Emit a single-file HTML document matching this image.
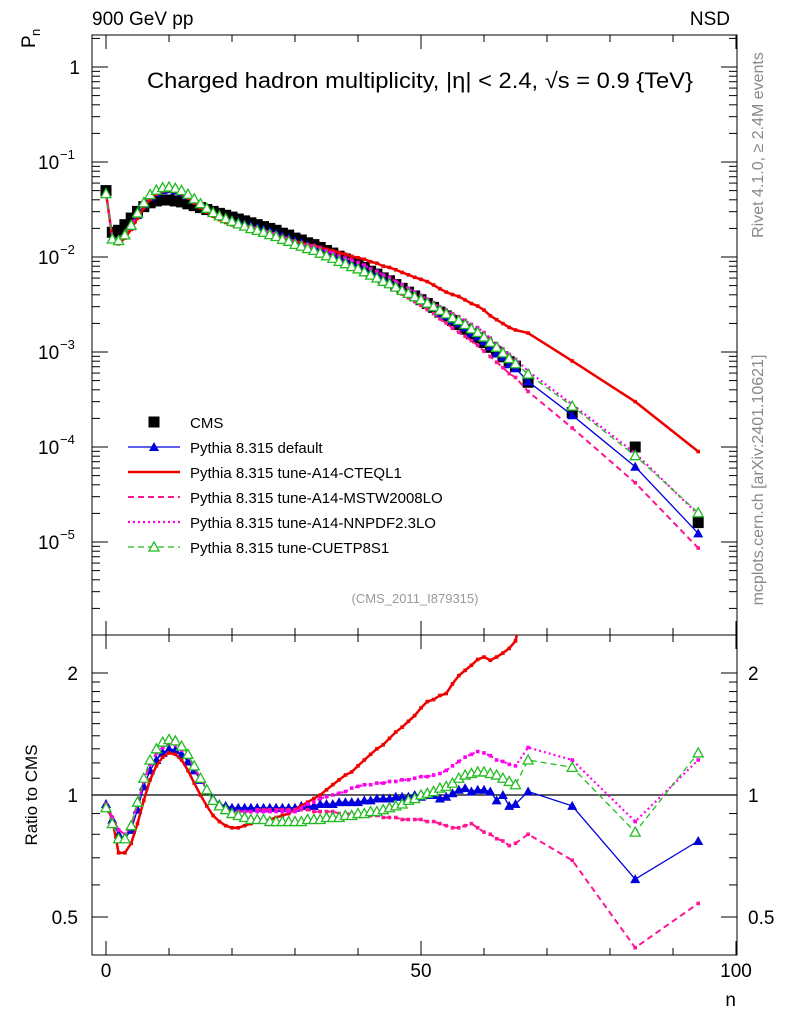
<!DOCTYPE html>
<html><head><meta charset="utf-8"><style>
body{margin:0;background:#fff;width:786px;height:1024px;overflow:hidden;font-family:"Liberation Sans",sans-serif}
svg{display:block}
</style></head><body>
<svg id="c" width="786" height="1024" xmlns="http://www.w3.org/2000/svg" font-family="Liberation Sans, DejaVu Sans, sans-serif"></svg>
<script>
const nvals=[0,1,2,3,4,5,6,7,8,9,10,11,12,13,14,15,16,17,18,19,20,21,22,23,24,25,26,27,28,29,30,31,32,33,34,35,36,37,38,39,40,41,42,43,44,45,46,47,48,49,50,51,52,53,54,55,56,57,58,59,60,61,62,63,64,65,67,74,84,94];
const cms=[0.050,0.0182,0.0191,0.0219,0.0257,0.0302,0.0339,0.0372,0.0389,0.0398,0.0398,0.0389,0.0380,0.0363,0.0347,0.0331,0.0316,0.0302,0.0288,0.0275,0.0263,0.0251,0.0240,0.0229,0.0219,0.0209,0.0200,0.0191,0.0178,0.0170,0.0158,0.0151,0.0141,0.0135,0.0126,0.0117,0.0110,0.0102,0.00955,0.00891,0.00832,0.00776,0.00708,0.00661,0.00603,0.00562,0.00513,0.00468,0.00427,0.00389,0.00355,0.00324,0.00295,0.00263,0.00240,0.00214,0.00195,0.00174,0.00155,0.00141,0.00126,0.00112,0.00100,0.00089,0.00079,0.00071,0.00048,0.00023,0.000100,0.0000160];
const ratioDefault=[0.95,0.87,0.80,0.78,0.82,0.92,1.05,1.15,1.22,1.27,1.30,1.29,1.26,1.21,1.15,1.09,1.03,0.98,0.95,0.94,0.93,0.93,0.93,0.93,0.93,0.93,0.93,0.93,0.93,0.93,0.93,0.94,0.94,0.94,0.95,0.95,0.95,0.96,0.96,0.96,0.96,0.97,0.97,0.98,0.98,0.98,0.99,0.99,0.99,1.00,0.99,1.00,1.00,0.98,0.99,1.01,1.03,1.04,1.02,1.03,1.03,1.02,0.97,1.00,0.94,0.95,1.02,0.94,0.62,0.77];
const ratioCTEQ=[0.95,0.87,0.72,0.72,0.76,0.85,0.97,1.09,1.18,1.24,1.27,1.26,1.22,1.15,1.07,1.00,0.94,0.89,0.86,0.84,0.83,0.83,0.84,0.85,0.86,0.86,0.87,0.88,0.89,0.90,0.92,0.94,0.96,0.98,1.00,1.03,1.06,1.09,1.12,1.14,1.18,1.22,1.26,1.30,1.33,1.38,1.43,1.47,1.52,1.57,1.64,1.70,1.72,1.76,1.78,1.88,1.97,2.03,2.09,2.16,2.19,2.15,2.19,2.24,2.30,2.40,3.3,3.5,3.0,5.6];
const ratioMSTW=[0.95,0.88,0.82,0.80,0.84,0.95,1.08,1.19,1.27,1.31,1.34,1.33,1.29,1.24,1.17,1.10,1.03,0.97,0.94,0.92,0.91,0.91,0.91,0.91,0.92,0.92,0.92,0.92,0.92,0.92,0.92,0.92,0.92,0.91,0.91,0.91,0.91,0.90,0.90,0.90,0.90,0.89,0.89,0.89,0.88,0.88,0.88,0.87,0.87,0.87,0.87,0.86,0.86,0.85,0.84,0.83,0.83,0.84,0.85,0.83,0.81,0.80,0.78,0.77,0.75,0.76,0.80,0.69,0.42,0.54];
const ratioNNPDF=[0.95,0.88,0.82,0.80,0.84,0.95,1.08,1.19,1.27,1.31,1.34,1.33,1.29,1.24,1.17,1.10,1.03,0.97,0.94,0.92,0.91,0.91,0.91,0.91,0.91,0.91,0.91,0.91,0.91,0.91,0.91,0.93,0.95,0.96,0.98,0.99,1.00,1.01,1.02,1.04,1.05,1.06,1.06,1.07,1.07,1.08,1.08,1.09,1.09,1.10,1.11,1.11,1.12,1.13,1.15,1.18,1.21,1.24,1.26,1.28,1.27,1.25,1.22,1.21,1.19,1.18,1.31,1.22,0.86,1.22];
const ratioCUETP=[0.93,0.85,0.78,0.78,0.84,0.96,1.10,1.22,1.30,1.35,1.37,1.36,1.32,1.26,1.18,1.10,1.03,0.97,0.94,0.92,0.90,0.89,0.88,0.87,0.87,0.87,0.86,0.86,0.86,0.86,0.86,0.86,0.87,0.87,0.87,0.88,0.88,0.88,0.89,0.89,0.90,0.90,0.91,0.91,0.92,0.93,0.94,0.95,0.97,0.98,1.00,1.01,1.02,1.04,1.05,1.07,1.10,1.12,1.13,1.14,1.14,1.13,1.12,1.10,1.08,1.06,1.22,1.17,0.81,1.27];
const legendLabels=["CMS","Pythia 8.315 default","Pythia 8.315 tune-A14-CTEQL1","Pythia 8.315 tune-A14-MSTW2008LO","Pythia 8.315 tune-A14-NNPDF2.3LO","Pythia 8.315 tune-CUETP8S1"];
const xTicks=[0,50,100];
const ratioTicks=[2,1,0.5];

const S=document.getElementById('c');const NS='http://www.w3.org/2000/svg';
function mk(t,a,p){const e=document.createElementNS(NS,t);for(const k in a)e.setAttribute(k,a[k]);(p||S).appendChild(e);return e;}
const X0=92,X1=737,TY0=35,TY1=635,BY1=955;
const xs=n=>106+n*6.3;
const yt=v=>67-Math.log10(v)*95;
const yb=r=>795-Math.log2(r)*122;
const defs=mk('defs',{});
const c1=mk('clipPath',{id:'ct'},defs);mk('rect',{x:X0,y:TY0,width:X1-X0,height:TY1-TY0},c1);
const c2=mk('clipPath',{id:'cb'},defs);mk('rect',{x:X0,y:TY1,width:X1-X0,height:BY1-TY1},c2);
const ft=mk('rect',{x:X0,y:TY0,width:X1-X0,height:TY1-TY0,fill:'none',stroke:'#000','stroke-width':1});

const fb=mk('rect',{x:X0,y:TY1,width:X1-X0,height:BY1-TY1,fill:'none',stroke:'#000','stroke-width':1});

for(let n=0;n<=100;n+=10){const x=xs(n);const L=n%50==0?14:7;
 mk('line',{x1:x,x2:x,y1:BY1,y2:BY1-L,stroke:'#000'});mk('line',{x1:x,x2:x,y1:TY1,y2:TY1-L,stroke:'#000'});
 mk('line',{x1:x,x2:x,y1:TY0,y2:TY0+L,stroke:'#000'});mk('line',{x1:x,x2:x,y1:TY1,y2:TY1+L,stroke:'#000'});}
xTicks.forEach(n=>{const t=mk('text',{x:xs(n),y:977,'font-size':19,'text-anchor':'middle'});t.textContent=n;
 });
for(let d=-6;d<=0;d++){for(let m=1;m<10;m++){const v=m*Math.pow(10,d);const y=yt(v);if(y<TY0||y>TY1)continue;const L=m==1?16:8;
 mk('line',{x1:X0,x2:X0+L,y1:y,y2:y,stroke:'#000'});mk('line',{x1:X1,x2:X1-L,y1:y,y2:y,stroke:'#000'});}}
const tl=mk('text',{x:80,y:74,'font-size':19,'text-anchor':'end'});tl.textContent='1';
for(let d=-1;d>=-5;d--){const y=yt(Math.pow(10,d));const t=mk('text',{x:38,y:y+7,'font-size':19});t.textContent='10';
 
 const s=mk('text',{x:60,y:y-3,'font-size':13});s.textContent=String(d).replace('-','\u2212');}
[0.5,0.6,0.7,0.8,0.9,1,1.1,1.2,1.3,1.4,1.5,1.6,1.7,1.8,1.9,2].forEach(r=>{const y=yb(r);const L=(r==0.5||r==1||r==2)?16:8;
 mk('line',{x1:X0,x2:X0+L,y1:y,y2:y,stroke:'#000'});mk('line',{x1:X1,x2:X1-L,y1:y,y2:y,stroke:'#000'});});
ratioTicks.forEach(r=>{const y=yb(r)+7;
 const a=mk('text',{x:78,y:y,'font-size':19,'text-anchor':'end'});a.textContent=r;
 const b=mk('text',{x:748,y:y,'font-size':19});b.textContent=r;});
mk('line',{x1:X0,x2:X1,y1:yb(1),y2:yb(1),stroke:'#000','stroke-width':1.2});
const series=[
 {name:'default',r:ratioDefault,col:'#0000dd',dash:'',mk:'tri',w:1.3},
 {name:'cteql1',r:ratioCTEQ,col:'#ee0000',dash:'',mk:'sq',w:2.5},
 {name:'mstw',r:ratioMSTW,col:'#ff1493',dash:'6,4',mk:'sq',w:2},
 {name:'nnpdf',r:ratioNNPDF,col:'#ff00ee',dash:'2,3',mk:'sq',w:2.2},
 {name:'cuetp',r:ratioCUETP,col:'#22bb22',dash:'6,4',mk:'otri',w:1.3}];
function marker(g,type,x,y,col){
 if(type=='tri'){mk('path',{d:`M${x},${y-5}L${x+5},${y+4}L${x-5},${y+4}Z`,fill:col},g);}
 else if(type=='otri'){mk('path',{d:`M${x},${y-5}L${x+5},${y+4}L${x-5},${y+4}Z`,fill:'#fff',stroke:col,'stroke-width':1.3},g);}
 else if(type=='sq'){mk('rect',{x:x-1.8,y:y-1.8,width:3.6,height:3.6,fill:col},g);}
 else if(type=='big'){mk('rect',{x:x-5.5,y:y-5.5,width:11,height:11,fill:col},g);}
}
const gC=mk('g',{'clip-path':'url(#ct)'});
nvals.forEach((n,i)=>marker(gC,'big',xs(n),yt(cms[i]),'#000'));
series.forEach(s=>{
 const gt=mk('g',{'clip-path':'url(#ct)'});
 const pt=nvals.map((n,i)=>xs(n)+','+yt(cms[i]*s.r[i])).join(' ');
 mk('polyline',{points:pt,fill:'none',stroke:s.col,'stroke-width':s.w,'stroke-dasharray':s.dash},gt);
 nvals.forEach((n,i)=>marker(gt,s.mk,xs(n),yt(cms[i]*s.r[i]),s.col));
 const gb=mk('g',{'clip-path':'url(#cb)'});
 const pb=nvals.map((n,i)=>xs(n)+','+yb(s.r[i])).join(' ');
 mk('polyline',{points:pb,fill:'none',stroke:s.col,'stroke-width':s.w,'stroke-dasharray':s.dash},gb);
 nvals.forEach((n,i)=>marker(gb,s.mk,xs(n),yb(s.r[i]),s.col));
});
const lg=mk('g',{});
legendLabels.forEach((lab,i)=>{const y=422+i*25;
 const e=mk('g',{},lg);
 if(i==0)marker(e,'big',154,y,'#000');else{const s=series[i-1];
  mk('line',{x1:128,x2:180,y1:y,y2:y,stroke:s.col,'stroke-width':s.w,'stroke-dasharray':s.dash},e);
  if(s.mk!='sq')marker(e,s.mk,154,y,s.col);}
 const t=mk('text',{x:190,y:y+6,'font-size':15},e);t.textContent=lab;});
function txt(x,y,s,str,name,extra){const t=mk('text',Object.assign({x:x,y:y,'font-size':s},extra||{}));t.textContent=str;return t;}
txt(92,25,19,'900 GeV pp','energy-label');
txt(730,25,19,'NSD','process-label',{'text-anchor':'end'});
txt(420,88,22,'Charged hadron multiplicity, |\u03b7| < 2.4, \u221as = 0.9 {TeV}','chart-title',{'text-anchor':'middle',textLength:546,lengthAdjust:'spacingAndGlyphs'});
txt(415,603,13,'(CMS_2011_I879315)','analysis-label',{'text-anchor':'middle',fill:'#999'});
txt(763,145,16,'Rivet 4.1.0, \u2265 2.4M events','rivet-label',{'text-anchor':'middle',fill:'#888',transform:'rotate(-90 763 145)'});
txt(763,480,16,'mcplots.cern.ch [arXiv:2401.10621]','mcplots-label',{'text-anchor':'middle',fill:'#888',transform:'rotate(-90 763 480)'});
txt(35,48,19,'P','y-axis-title',{transform:'rotate(-90 35 48)'});
txt(40,36,13,'n','y-axis-title-sub',{transform:'rotate(-90 40 36)'});
txt(37,795,17,'Ratio to CMS','ratio-axis-title',{'text-anchor':'middle',transform:'rotate(-90 37 795)'});
txt(736,1006,19,'n','x-axis-title',{'text-anchor':'end'});
</script>
</body></html>
